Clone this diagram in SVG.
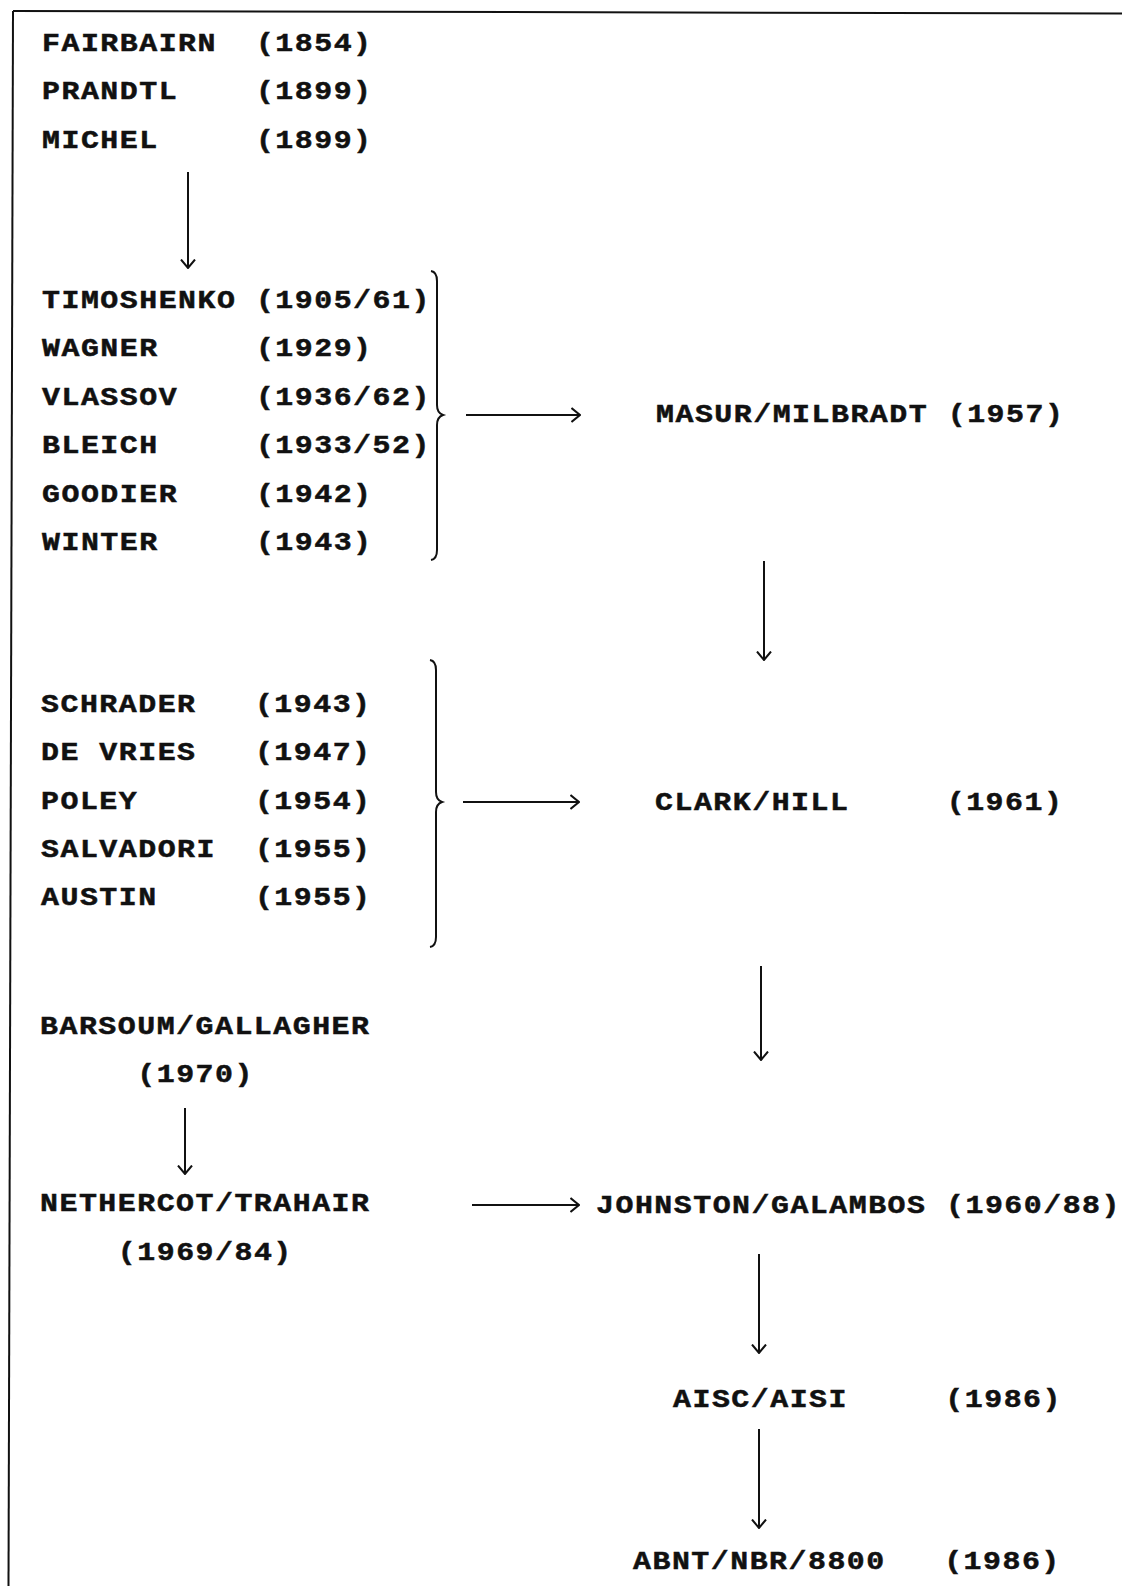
<svg xmlns="http://www.w3.org/2000/svg" width="1122" height="1586" viewBox="0 0 1122 1586">
<style>
text{font-family:"Liberation Mono","Courier New",monospace;font-weight:bold;font-size:26px;letter-spacing:1.31px;fill:#111;stroke:#111;stroke-width:0.5}
.ln{stroke:#111;stroke-width:2;fill:none}
</style>
<defs>
<marker id="ah" viewBox="0 0 10 16" refX="9.5" refY="8" markerWidth="10" markerHeight="16" markerUnits="userSpaceOnUse" orient="auto">
<path d="M1,1 L9.5,8 L1,15" fill="none" stroke="#111" stroke-width="2"/>
</marker>
</defs>
<rect width="1122" height="1586" fill="#fff"/>
<g id="frame">
<path class="ln" d="M13,11 L1122,13.5"/>
<path class="ln" d="M13,11 L8.5,1586" stroke-width="2.5"/>
</g>
<g id="n-fairbairn" transform="translate(42,51) scale(1.15,1)"><text x="0" y="0">FAIRBAIRN</text><text x="186" y="0">(1854)</text></g>
<g id="n-prandtl" transform="translate(42,99.3) scale(1.15,1)"><text x="0" y="0">PRANDTL</text><text x="186" y="0">(1899)</text></g>
<g id="n-michel" transform="translate(42,147.6) scale(1.15,1)"><text x="0" y="0">MICHEL</text><text x="186" y="0">(1899)</text></g>
<g id="n-timoshenko" transform="translate(42,308) scale(1.15,1)"><text x="0" y="0">TIMOSHENKO</text><text x="186" y="0">(1905/61)</text></g>
<g id="n-wagner" transform="translate(42,356.4) scale(1.15,1)"><text x="0" y="0">WAGNER</text><text x="186" y="0">(1929)</text></g>
<g id="n-vlassov" transform="translate(42,404.8) scale(1.15,1)"><text x="0" y="0">VLASSOV</text><text x="186" y="0">(1936/62)</text></g>
<g id="n-bleich" transform="translate(42,453.2) scale(1.15,1)"><text x="0" y="0">BLEICH</text><text x="186" y="0">(1933/52)</text></g>
<g id="n-goodier" transform="translate(42,501.6) scale(1.15,1)"><text x="0" y="0">GOODIER</text><text x="186" y="0">(1942)</text></g>
<g id="n-winter" transform="translate(42,550) scale(1.15,1)"><text x="0" y="0">WINTER</text><text x="186" y="0">(1943)</text></g>
<g id="n-masur" transform="translate(656,422) scale(1.15,1)"><text x="0" y="0">MASUR/MILBRADT</text><text x="253.7" y="0">(1957)</text></g>
<g id="n-schrader" transform="translate(41,711.6) scale(1.15,1)"><text x="0" y="0">SCHRADER</text><text x="186" y="0">(1943)</text></g>
<g id="n-devries" transform="translate(41,760) scale(1.15,1)"><text x="0" y="0">DE VRIES</text><text x="186" y="0">(1947)</text></g>
<g id="n-poley" transform="translate(41,808.6) scale(1.15,1)"><text x="0" y="0">POLEY</text><text x="186" y="0">(1954)</text></g>
<g id="n-salvadori" transform="translate(41,857) scale(1.15,1)"><text x="0" y="0">SALVADORI</text><text x="186" y="0">(1955)</text></g>
<g id="n-austin" transform="translate(41,905) scale(1.15,1)"><text x="0" y="0">AUSTIN</text><text x="186" y="0">(1955)</text></g>
<g id="n-clark" transform="translate(655,810) scale(1.15,1)"><text x="0" y="0">CLARK/HILL</text><text x="253.7" y="0">(1961)</text></g>
<g id="n-barsoum" transform="translate(40,1034.4) scale(1.15,1)"><text x="0" y="0">BARSOUM/GALLAGHER</text><text x="84.6" y="48">(1970)</text></g>
<g id="n-nethercot" transform="translate(40,1211) scale(1.15,1)"><text x="0" y="0">NETHERCOT/TRAHAIR</text><text x="67.7" y="49">(1969/84)</text></g>
<g id="n-johnston" transform="translate(596,1212.5) scale(1.15,1)"><text x="0" y="0">JOHNSTON/GALAMBOS</text><text x="304.4" y="0">(1960/88)</text></g>
<g id="n-aisc" transform="translate(673,1407) scale(1.15,1)"><text x="0" y="0">AISC/AISI</text><text x="236.8" y="0">(1986)</text></g>
<g id="n-abnt" transform="translate(633,1568.6) scale(1.15,1)"><text x="0" y="0">ABNT/NBR/8800</text><text x="270.6" y="0">(1986)</text></g>
<g id="connectors">
<path class="ln" d="M188,172 L188,268" marker-end="url(#ah)"/>
<path class="ln" d="M431,271 Q437,272 437,281 L437,405 Q437,413 443,415 Q437,417 437,425 L437,550 Q437,559 431,560"/>
<path class="ln" d="M466,415 L580,415" marker-end="url(#ah)"/>
<path class="ln" d="M764,561 L764,660" marker-end="url(#ah)"/>
<path class="ln" d="M430,660 Q436,661 436,670 L436,792 Q436,800 442,802 Q436,804 436,812 L436,937 Q436,946 430,947"/>
<path class="ln" d="M463,802 L579,802" marker-end="url(#ah)"/>
<path class="ln" d="M761,966 L761,1060" marker-end="url(#ah)"/>
<path class="ln" d="M185,1108 L185,1174" marker-end="url(#ah)"/>
<path class="ln" d="M472,1205 L579,1205" marker-end="url(#ah)"/>
<path class="ln" d="M759,1254 L759,1353" marker-end="url(#ah)"/>
<path class="ln" d="M759,1429 L759,1528" marker-end="url(#ah)"/>
</g>
</svg>
